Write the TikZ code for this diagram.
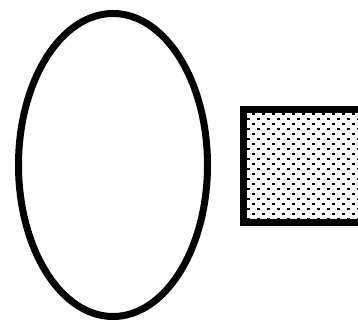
\documentclass[tikz,border=0pt]{standalone}
\usetikzlibrary{shapes.geometric}
\tikzset{
  thickline/.style={draw=black, line width=7pt},
  dotsq/.style={fill=black}
}
\begin{document}
\begin{tikzpicture}[x=1pt,y=-1pt]
\useasboundingbox (0,0) rectangle (358,321);
\clip (0,0) rectangle (358,321);
\node[ellipse, thickline, minimum width=189pt, minimum height=303pt, inner sep=0pt] (oval) at (113,165) {};
\coordinate (boxnw) at (243.5,109.5);
\coordinate (boxse) at (420,222);
\fill[white] (boxnw) rectangle (boxse);
\begin{scope}
\clip (boxnw) rectangle (boxse);
\foreach \j in {0,...,26}{
  \pgfmathsetmacro\yy{104+5*\j}
  \pgfmathsetmacro\xo{233.3+5*mod(\j,2)}
  \foreach \i in {0,...,13}{
    \fill[dotsq] (\xo+10*\i-1.3,\yy-1.3) rectangle ++(2.6,2.6);
  }
}
\end{scope}
\draw[thickline] (boxnw) rectangle (boxse);
\end{tikzpicture}
\end{document}
